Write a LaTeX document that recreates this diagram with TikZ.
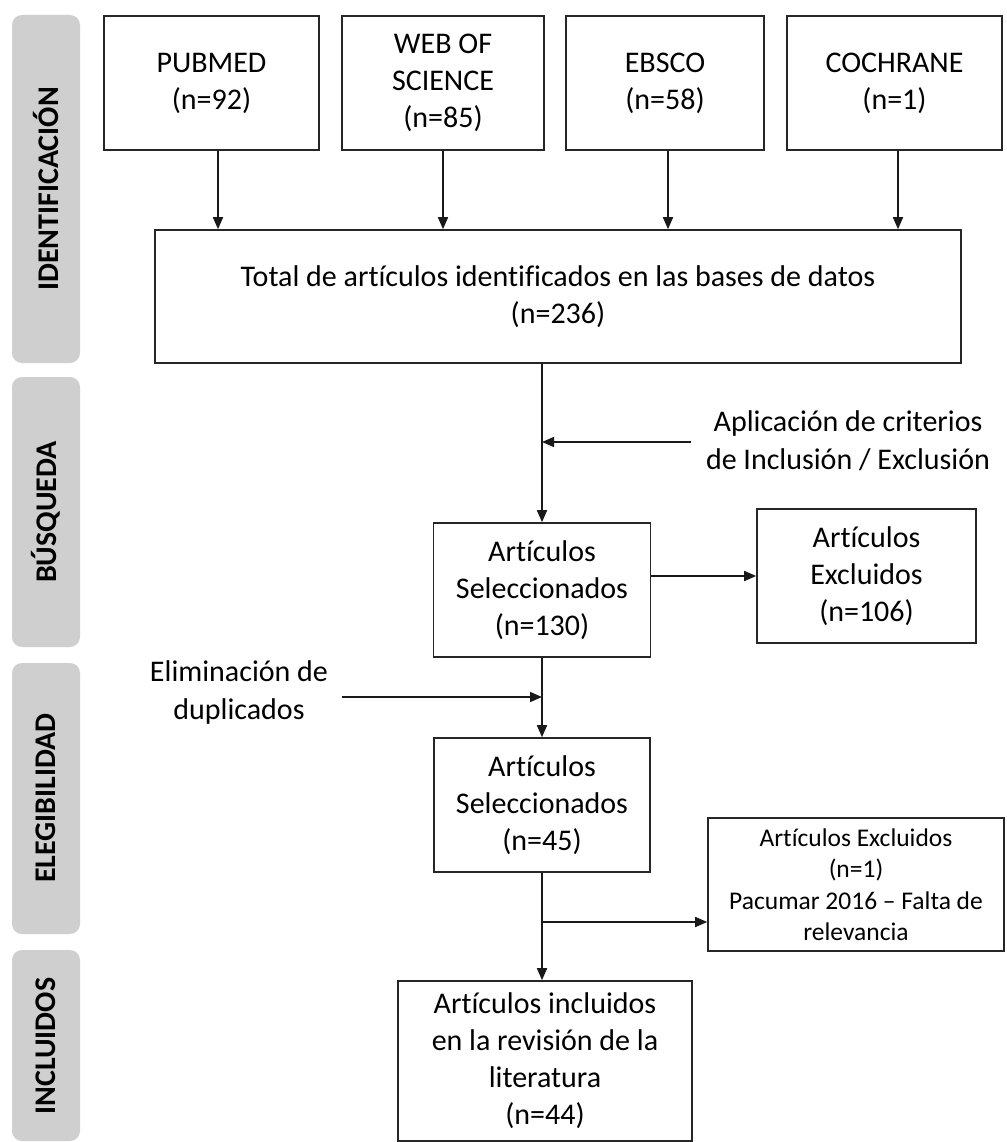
\documentclass[tikz,border=0pt]{standalone}
\usepackage{fontspec}
\setmainfont{Carlito}[Ligatures=NoCommon]
\usetikzlibrary{arrows.meta}
\begin{document}
\begin{tikzpicture}[x=1pt,y=-1pt,
  box/.style={draw=black!85, line width=1.6pt, inner sep=0pt, align=center, font=\fontsize{30}{37}\selectfont},
  smallbox/.style={box, font=\fontsize{25.5}{31.5}\selectfont},
  lbl/.style={align=center, font=\fontsize{30}{38}\selectfont, inner sep=0pt},
  arr/.style={draw=black!90, line width=1.6pt, -{Triangle[length=12pt,width=10pt]}},
  bar/.style={fill=black!19, draw=none, rounded corners=10pt},
  barlbl/.style={rotate=90, font=\bfseries\fontsize{30}{36}\selectfont, inner sep=0pt}]
\useasboundingbox[fill=white] (0,0) rectangle (1006,1142);

% phase bars
\fill[bar] (12,15) rectangle (80,363);
\fill[bar] (12,377) rectangle (80,647);
\fill[bar] (12,663) rectangle (80,934);
\fill[bar] (12,950) rectangle (80,1141);
\node[barlbl] (l1) at (46,189) {IDENTIFICACIÓN};
\node[barlbl] (l2) at (46,512) {BÚSQUEDA};
\node[barlbl] (l3) at (46,798) {ELEGIBILIDAD};
\node[barlbl] (l4) at (46,1046) {INCLUIDOS};

% sources
\node[box, minimum width=215pt, minimum height=134pt] (pub) at (211.5,83) {PUBMED\\(n=92)};
\node[box, minimum width=202pt, minimum height=134pt] (wos) at (443,83) {WEB OF\\SCIENCE\\(n=85)};
\node[box, minimum width=198pt, minimum height=134pt] (ebs) at (665,83) {EBSCO\\(n=58)};
\node[box, minimum width=215pt, minimum height=134pt] (coc) at (894.5,83) {COCHRANE\\(n=1)};

\node[box, minimum width=806pt, minimum height=133pt] (tot) at (558,296.5) {Total de artículos identificados en las bases de datos\\(n=236)};

\draw[arr] ([xshift=6.5pt]pub.south) -- ([xshift=6.5pt]pub.south |- tot.north);
\draw[arr] (wos.south) -- (wos.south |- tot.north);
\draw[arr] ([xshift=3pt]ebs.south) -- ([xshift=3pt]ebs.south |- tot.north);
\draw[arr] ([xshift=3.5pt]coc.south) -- ([xshift=3.5pt]coc.south |- tot.north);

% search
\node[box, minimum width=217pt, minimum height=134pt] (s130) at (542,590) {Artículos\\Seleccionados\\(n=130)};
\node[box, minimum width=219pt, minimum height=134pt] (e106) at (866.5,576) {Artículos\\Excluidos\\(n=106)};
\draw[arr] (tot.south -| s130.north) -- (s130.north);

\node[lbl] (apl) at (848,441) {Aplicación de criterios\\de Inclusión / Exclusión};
\coordinate (aplend) at (691,442);
\draw[arr] (aplend) -- (aplend -| s130.north);

\draw[arr] (e106.west -| s130.east) -- (e106.west);

% eligibility
\node[lbl] (elim) at (239,692) {Eliminación de\\duplicados};
\coordinate (elimend) at (342,697);
\draw[arr] (elimend) -- (elimend -| s130.south);

\node[box, minimum width=216pt, minimum height=134pt] (s45) at (542,805) {Artículos\\Seleccionados\\(n=45)};
\draw[arr] (s130.south) -- (s45.north);

\node[smallbox, minimum width=296pt, minimum height=133pt] (e1) at (856,884.5) {Artículos Excluidos\\(n=1)\\Pacumar 2016 – Falta de\\relevancia};

% included
\node[box, minimum width=294pt, minimum height=160pt] (inc) at (545,1061) {Artículos incluidos\\en la revisión de la\\literatura\\(n=44)};
\draw[arr] (s45.south) -- (s45.south |- inc.north);
\coordinate (brk) at (542,922);
\draw[arr] (brk) -- (brk -| e1.west);
\end{tikzpicture}
\end{document}
